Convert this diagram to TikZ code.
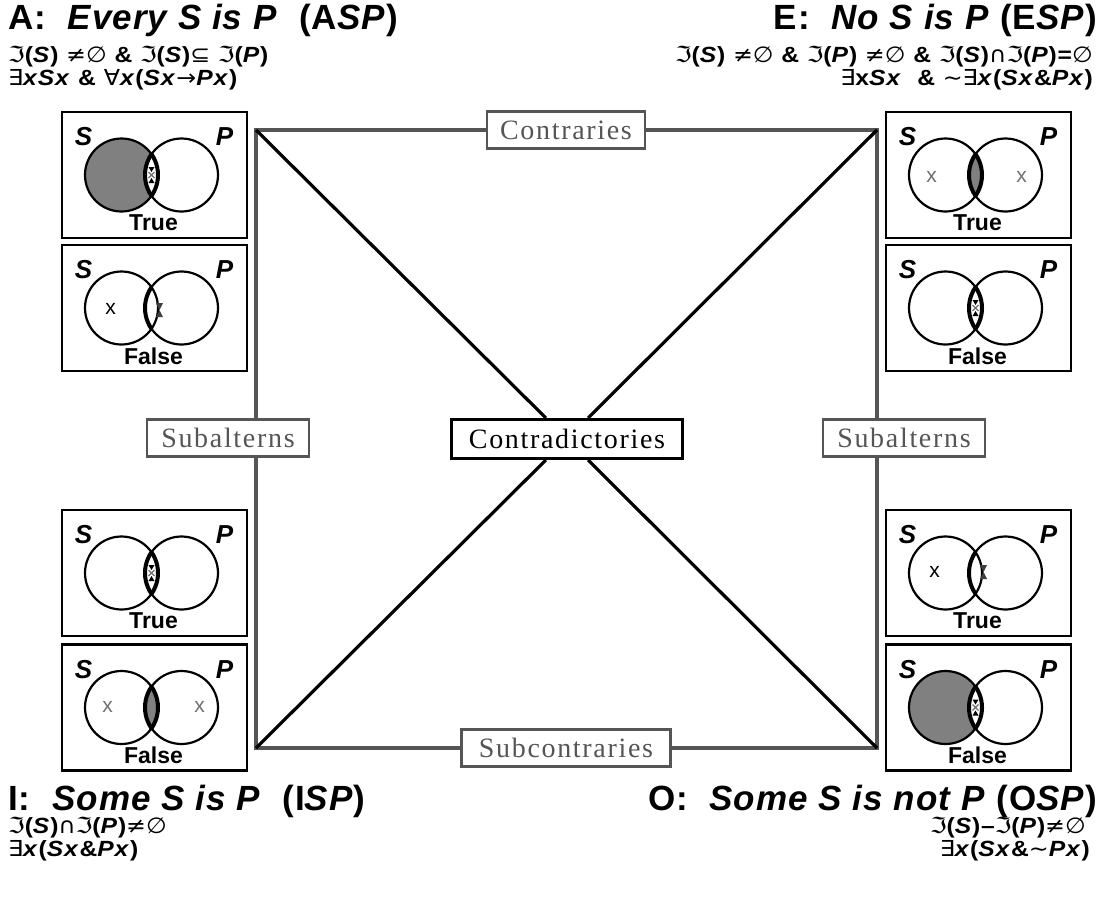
\documentclass[tikz,border=0pt]{standalone}
\usepackage{fontspec}
\setmainfont{Liberation Sans}
\newfontfamily\headf[LetterSpace=3]{Liberation Sans}
\newfontfamily\formf[LetterSpace=4,FakeStretch=1.12]{Liberation Sans}
\newfontfamily\symf{DejaVu Sans}
\newfontfamily\symwide[FakeStretch=1.08]{DejaVu Sans}
\newfontfamily\labf[LetterSpace=6]{Liberation Serif}
\definecolor{edgegray}{HTML}{555555}
\definecolor{shadegray}{HTML}{808080}
\definecolor{xgray}{HTML}{707070}
\definecolor{darkmk}{HTML}{404040}

% symbols set in DejaVu Sans
\newcommand\sy[1]{{\symwide\mdseries\upshape #1}}
\newcommand\frakI{\sy{ℑ}}

% Venn diagram pieces, in coordinates local to a box centre
\newcommand\vennframe[2]{%
  \node[vbox] (#1) at (0,0) {};
  \node[sp] (#1-S) at (-71,-38) {S};
  \node[sp] (#1-P) at (70,-38) {P};
  \node[verdict] (#1-v) at (-1,48) {#2};}
\newcommand\circs{\draw[circ] (-33,0) circle (36.5pt) (27,0) circle (36.5pt);}
\newcommand\leftcres{\fill[shadegray] (-33,0) circle (36.5pt);
  \begin{scope}\clip (-33,0) circle (36.5pt); \fill[white] (27,0) circle (36.5pt);\end{scope}}
\newcommand\lensfill{\begin{scope}\clip (-33,0) circle (36.5pt); \fill[shadegray] (27,0) circle (36.5pt);\end{scope}}
\newcommand\lensleftthick{\begin{scope}\clip (-33,0) circle (36.5pt); \draw[line width=4pt] (27,0) circle (36.5pt);\end{scope}}
\newcommand\lensthick{\lensleftthick
  \begin{scope}\clip (27,0) circle (36.5pt); \draw[line width=4pt] (-33,0) circle (36.5pt);\end{scope}}
\newcommand\possmark[1]{\begin{scope}[shift={(#1)}]
  \fill (-3,-8) -- (3,-8) -- (0,-3) -- cycle;
  \fill (-3,8) -- (3,8) -- (0,3) -- cycle;
  \draw[xgray, line width=1.3pt] (-3,-3) -- (3,3) (-3,3) -- (3,-3);
  \end{scope}}
\newcommand\edgemark[1]{\begin{scope}[shift={(#1)}]
  \fill[darkmk] (-3.5,-7) -- (3.5,-7) -- (0,0) -- cycle;
  \fill[darkmk] (-3.5,7) -- (3.5,7) -- (0,0) -- cycle;
  \end{scope}}
\newcommand\xm[3]{\node[xmk,#2] (#1) at (#3) {x};}

\begin{document}
\begin{tikzpicture}[x=1pt,y=-1pt,
  vbox/.style={draw, line width=2.6pt, minimum width=185pt, minimum height=126pt, inner sep=0pt},
  circ/.style={line width=2.2pt},
  sp/.style={font=\fontsize{26}{26}\selectfont\bfseries\itshape, inner sep=0pt},
  verdict/.style={font=\fontsize{23}{23}\selectfont\bfseries, inner sep=0pt},
  xmk/.style={font=\fontsize{21}{21}\selectfont, inner sep=0pt},
  rel/.style={draw=edgegray, text=edgegray, fill=white, line width=2.6pt,
    font=\labf\fontsize{28}{28}\selectfont, minimum height=37pt, inner sep=0pt},
  contra/.style={rel, draw=black, text=black, line width=3pt, minimum height=39pt},
  side/.style={draw=edgegray, line width=4pt, line cap=rect},
  diag/.style={draw=black, line width=3.2pt},
  head/.style={font=\headf\fontsize{35}{35}\selectfont\bfseries, inner sep=0pt},
  formula/.style={font=\formf\fontsize{22}{22}\selectfont\bfseries, inner sep=0pt},
]
\useasboundingbox (0,0) rectangle (1106,897);

% corners of the square of opposition
\coordinate (tl) at (256,130);
\coordinate (tr) at (877,130);
\coordinate (bl) at (256,748);
\coordinate (br) at (877,748);

% relation labels
\node[rel, minimum width=158pt] (contr) at (566,130) {Contraries};
\node[rel, minimum width=209pt] (subcontr) at (566,748) {Subcontraries};
\node[rel, minimum width=162pt] (subL) at (228,438) {Subalterns};
\node[rel, minimum width=162pt] (subR) at (904,438) {Subalterns};
\node[contra, minimum width=231pt] (contrad) at (567,439) {Contradictories};

% sides
\draw[side] (tl) -- (contr);
\draw[side] (contr) -- (tr);
\draw[side] (bl) -- (subcontr);
\draw[side] (subcontr) -- (br);
\draw[side] (tl) -- (tl |- subL.north);
\draw[side] (tl |- subL.south) -- (bl);
\draw[side] (tr) -- (tr |- subR.north);
\draw[side] (tr |- subR.south) -- (br);

% diagonals
\draw[diag] (tl) -- (contrad);
\draw[diag] (contrad) -- (br);
\draw[diag] (tr) -- (contrad);
\draw[diag] (contrad) -- (bl);

% headings and formulas
\node[head, anchor=base west] (hA) at (8,29) {A:\ \ \textit{Every S is P}\ \ (A\textit{SP})};
\node[formula, anchor=base west] (fA1) at (8,62) {\frakI(\textit{S}) \sy{≠∅} \& \frakI(\textit{S})\sy{⊆} \frakI(\textit{P})};
\node[formula, anchor=base west] (fA2) at (8,85) {\sy{∃}\textit{xSx} \& \sy{∀}\textit{x}(\textit{Sx}\sy{→}\textit{Px})};

\node[head, anchor=base east] (hE) at (1097,29) {E:\ \ \textit{No S is P} (E\textit{SP})};
\node[formula, anchor=base east] (fE1) at (1093,62) {\frakI(\textit{S}) \sy{≠∅} \& \frakI(\textit{P}) \sy{≠∅} \& \frakI(\textit{S})\sy{∩}\frakI(\textit{P})=\sy{∅}};
\node[formula, anchor=base east] (fE2) at (1093,85) {\sy{∃}x\textit{Sx}\ \ \& \sy{∼∃}\textit{x}(\textit{Sx}\&\textit{Px})};

\node[head, anchor=base west] (hI) at (8,810) {I:\ \ \textit{Some S is P}\ \ (I\textit{SP})};
\node[formula, anchor=base west] (fI1) at (8,833) {\frakI(\textit{S})\sy{∩}\frakI(\textit{P})\sy{≠∅}};
\node[formula, anchor=base west] (fI2) at (8,856) {\sy{∃}\textit{x}(\textit{Sx}\&\textit{Px})};

\node[head, anchor=base east] (hO) at (1097,810) {O:\ \ \textit{Some S is not P} (O\textit{SP})};
\node[formula, anchor=base east] (fO1) at (1086,833) {\frakI(\textit{S})–\frakI(\textit{P})\sy{≠∅}};
\node[formula, anchor=base east] (fO2) at (1090,856) {\sy{∃}\textit{x}(\textit{Sx}\&\sy{∼}\textit{Px})};

% A true
\begin{scope}[shift={(154.5,175)}]
  \vennframe{aT}{True}
  \leftcres \circs \lensthick \possmark{-3,0}
\end{scope}
% A false
\begin{scope}[shift={(154.5,308)}]
  \vennframe{aF}{False}
  \circs \lensleftthick \xm{aF-x}{}{-44,1} \edgemark{5,2}
\end{scope}
% E true
\begin{scope}[shift={(978.5,175)}]
  \vennframe{eT}{True}
  \lensfill \circs \lensthick \xm{eT-x1}{xgray}{-47,2} \xm{eT-x2}{xgray}{43,2}
\end{scope}
% E false
\begin{scope}[shift={(978.5,308)}]
  \vennframe{eF}{False}
  \circs \lensthick \possmark{-3,0}
\end{scope}
% I true
\begin{scope}[shift={(154.5,573)}]
  \vennframe{iT}{True}
  \circs \lensthick \possmark{-3,0}
\end{scope}
% I false
\begin{scope}[shift={(154.5,707.5)}]
  \vennframe{iF}{False}
  \lensfill \circs \lensthick \xm{iF-x1}{xgray}{-47,-1} \xm{iF-x2}{xgray}{45,-1}
\end{scope}
% O true
\begin{scope}[shift={(978.5,573)}]
  \vennframe{oT}{True}
  \circs \lensleftthick \xm{oT-x}{}{-44,-1} \edgemark{5,-1}
\end{scope}
% O false
\begin{scope}[shift={(978.5,707.5)}]
  \vennframe{oF}{False}
  \leftcres \circs \lensthick \possmark{-3,0}
\end{scope}
\end{tikzpicture}
\end{document}
